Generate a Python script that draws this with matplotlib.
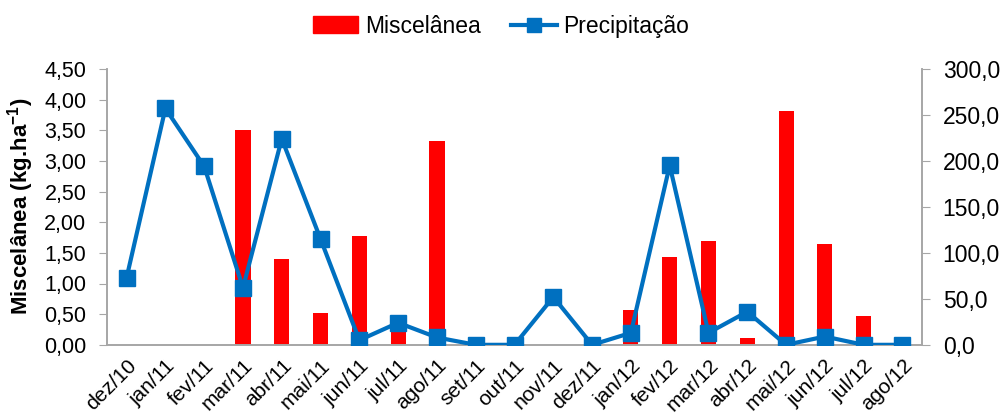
import numpy as np
import matplotlib.pyplot as plt
from matplotlib.ticker import FuncFormatter
from matplotlib.patches import Patch
from matplotlib.lines import Line2D

plt.rcParams['font.family'] = ['Liberation Sans', 'DejaVu Sans']
plt.rcParams['mathtext.fontset'] = 'custom'
plt.rcParams['mathtext.bf'] = 'Liberation Sans:bold'
plt.rcParams['mathtext.rm'] = 'Liberation Sans'

meses = ['dez/10', 'jan/11', 'fev/11', 'mar/11', 'abr/11', 'mai/11', 'jun/11',
         'jul/11', 'ago/11', 'set/11', 'out/11', 'nov/11', 'dez/11', 'jan/12',
         'fev/12', 'mar/12', 'abr/12', 'mai/12', 'jun/12', 'jul/12', 'ago/12']
miscelanea = [0, 0, 0, 3.50, 1.40, 0.52, 1.77, 0.30, 3.32, 0, 0, 0, 0, 0.56,
              1.44, 1.70, 0.11, 3.81, 1.65, 0.47, 0]
precipitacao = [73, 257, 194, 62, 224, 115, 5, 24, 8, 0, 0, 52, 0, 13,
                195, 13, 36, 0, 9, 0, 0]

x = np.arange(len(meses))
grey = '#A6A6A6'
azul = '#0070C0'
vermelho = '#FF0000'

fig = plt.figure(figsize=(10.02, 4.2), dpi=100)
ax = fig.add_axes([0.107, 0.179, 0.813, 0.657])
ax2 = ax.twinx()

ax.bar(x, miscelanea, width=0.39, color=vermelho, zorder=2)
ax2.plot(x, precipitacao, color=azul, linewidth=3, marker='s',
         markersize=12, zorder=3)

ax.set_xlim(-0.5, len(meses) - 0.5)
ax.set_ylim(0, 4.5)
ax2.set_ylim(0, 300)
ax.set_yticks(np.arange(0, 4.51, 0.5))
ax2.set_yticks(np.arange(0, 301, 50))
ax.yaxis.set_major_formatter(FuncFormatter(lambda v, p: f'{v:.2f}'.replace('.', ',')))
ax2.yaxis.set_major_formatter(FuncFormatter(lambda v, p: f'{v:.1f}'.replace('.', ',')))

ax.set_xticks(x)
ax.set_xticklabels(meses, rotation=45, ha='right', rotation_mode='anchor')
ax.tick_params(axis='x', length=0, labelsize=15, pad=8)
ax.tick_params(axis='y', labelsize=15.5, color=grey, length=6, pad=9)
ax2.tick_params(axis='y', labelsize=16.5, color=grey, length=6, pad=9)

for a in (ax, ax2):
    a.spines['top'].set_visible(False)
    for s in ('left', 'right', 'bottom'):
        a.spines[s].set_color(grey)
        a.spines[s].set_linewidth(1.2)

ax.set_ylabel('Miscelânea (kg.ha$^{\\mathbf{-1}}$)', fontsize=16,
              fontweight='bold', labelpad=6)

handles = [Patch(color=vermelho),
           Line2D([], [], color=azul, linewidth=3, marker='s', markersize=10)]
fig.legend(handles, ['Miscelânea', 'Precipitação'], loc='center',
           bbox_to_anchor=(0.5, 0.938), ncol=2, frameon=False, fontsize=16.5,
           handlelength=2.0, handletextpad=0.3, columnspacing=1.3)

ax2.set_zorder(ax.get_zorder() + 1)
ax2.patch.set_visible(False)

fig.savefig('out.png', dpi=100)
